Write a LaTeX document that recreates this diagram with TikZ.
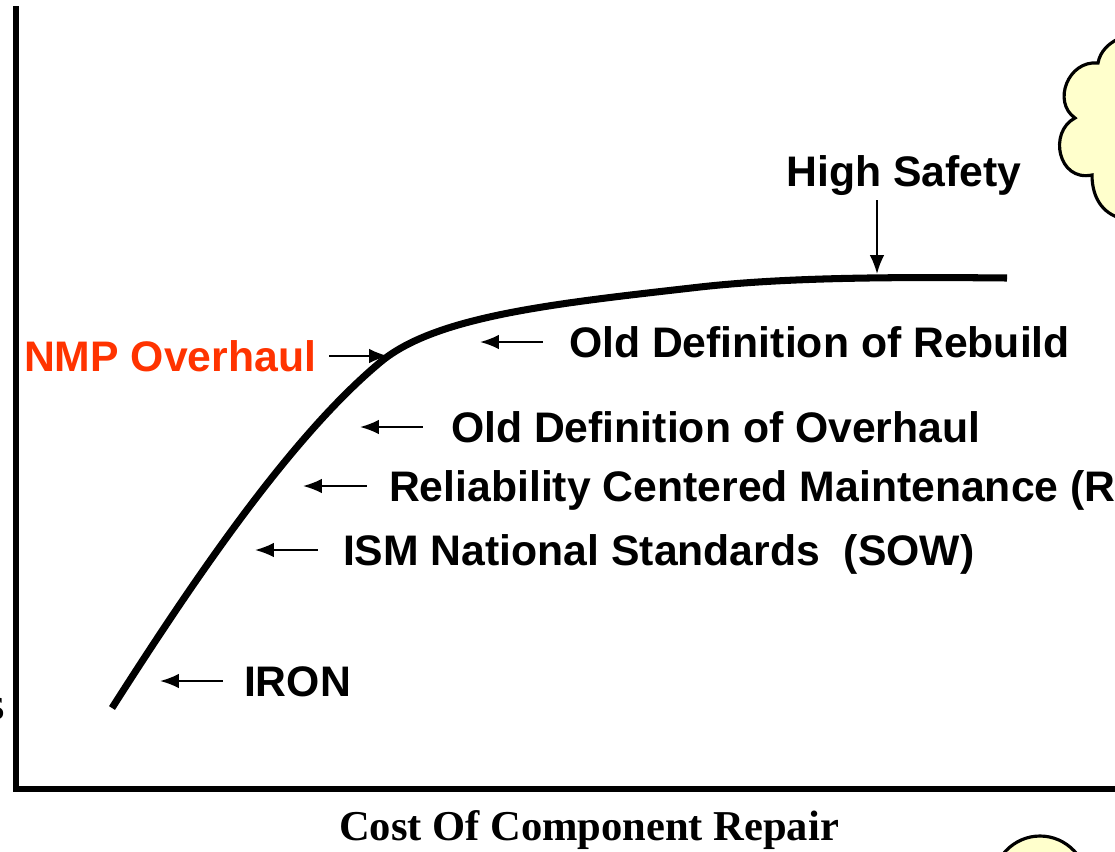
\documentclass[tikz,border=0pt]{standalone}
\usepackage{fontspec}
\setmainfont{Liberation Serif}
\setsansfont{Liberation Sans}
\usetikzlibrary{arrows.meta}
\definecolor{nmpred}{RGB}{255,51,0}
\definecolor{cloudyellow}{RGB}{255,255,204}

\begin{document}
\begin{tikzpicture}[x=0.01cm, y=-0.01cm, ->, >={Latex[length=5.4pt,width=4.2pt]},
  semithick,
  label node/.style={font=\sffamily\bfseries\fontsize{12.15}{14}\selectfont,
    text height=8.7pt, text depth=0pt, inner sep=0pt, anchor=west},
  axis line/.style={-, line width=1.7pt},
  cloud line/.style={-, draw, line width=0.9pt, fill=cloudyellow}]
  \useasboundingbox (0,0) rectangle (1115,851);
  \clip (0,0) rectangle (1115,851);

  % clouds at the right border
  \path[cloud line] (1125,36) .. controls (1108,42) and (1100,52) .. (1098,63)
    .. controls (1068,60) and (1052,102) .. (1075,118)
    .. controls (1048,132) and (1058,182) .. (1092,175)
    .. controls (1092,200) and (1105,216) .. (1125,219) -- cycle;
  \path[cloud line] (1040,886) ellipse (48 and 50);

  % axes
  \draw[axis line] (16,6) -- (16,789) -- (1115,789);
  \node[font=\fontsize{13}{15}\selectfont, anchor=base east, inner sep=0pt] (ylab) at (6,719) {s};
  \node[font=\bfseries\fontsize{12.1}{14}\selectfont, anchor=base] (xlab) at (589,840) {Cost Of Component Repair};

  % the curve
  \draw[-, line width=2pt] (112,708) .. controls (200,570) and (295,432) .. (383,360)
    .. controls (440,315) and (560,303) .. (700,287)
    .. controls (790,277) and (900,277) .. (1007,278);

  % labels
  \node[label node, anchor=base] (safety) at (904,186) {High Safety};
  \node[label node] (rebuild) at (568,342) {Old Definition of Rebuild};
  \node[label node, text=nmpred] (nmp) at (23,356) {NMP Overhaul};
  \node[label node] (overhaul) at (450,427) {Old Definition of Overhaul};
  \node[label node] (rcm) at (388,486) {Reliability Centered Maintenance (RCM)};
  \node[label node] (ism) at (342,550) {ISM National Standards\ \ (SOW)};
  \node[label node] (iron) at (243,681) {IRON};

  % arrow tips on the curve
  \coordinate (tSafety) at (877,274);
  \coordinate (tRebuild) at (480,342);
  \coordinate (tNmp) at (388,356);
  \coordinate (tOverhaul) at (360,427);
  \coordinate (tRcm) at (303,486);
  \coordinate (tIsm) at (255,550);
  \coordinate (tIron) at (160,681);

  \draw[shorten <=0.14cm] (safety.base -| tSafety) -- (tSafety);
  \draw[shorten <=0.25cm] (rebuild.west) -- (rebuild.west -| tRebuild);
  \draw[shorten <=0.12cm] (nmp.east) -- (nmp.east -| tNmp);
  \draw[shorten <=0.27cm] (overhaul.west) -- (overhaul.west -| tOverhaul);
  \draw[shorten <=0.21cm] (rcm.west) -- (rcm.west -| tRcm);
  \draw[shorten <=0.24cm] (ism.west) -- (ism.west -| tIsm);
  \draw[shorten <=0.20cm] (iron.west) -- (iron.west -| tIron);
\end{tikzpicture}
\end{document}
